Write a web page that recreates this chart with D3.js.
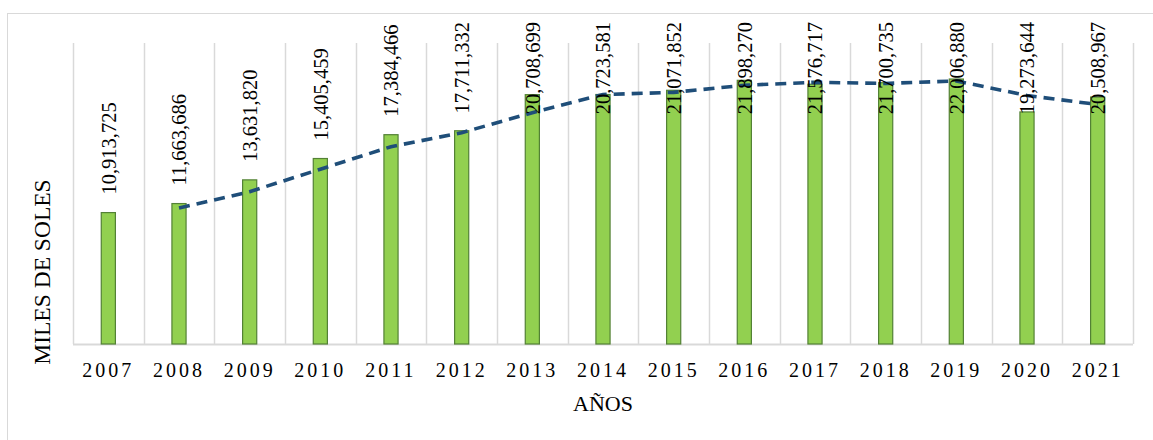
<!DOCTYPE html>
<html>
<head>
<meta charset="utf-8">
<script src="https://cdn.jsdelivr.net/npm/d3@7"></script>
<style>
  body { margin: 0; background: #fff; }
  text { font-family: "Liberation Serif", "Times New Roman", serif; fill: #000; }
</style>
</head>
<body>
<svg class="canvas" width="1153" height="440"></svg>
<script>
// years on the x axis
var years = ["2007", "2008", "2009", "2010", "2011", "2012", "2013", "2014",
             "2015", "2016", "2017", "2018", "2019", "2020", "2021"];

// thousands of soles
var values = [10913725, 11663686, 13631820, 15405459, 17384466, 17711332, 20708699,
              20723581, 21071852, 21898270, 21576717, 21700735, 22006880, 19273644, 20508967];

// dashed trend line (2-period moving average), starts in 2008
var trendYears = ["2008", "2009", "2010", "2011", "2012", "2013", "2014",
                  "2015", "2016", "2017", "2018", "2019", "2020", "2021"];
var trendValues = [11290000, 12650000, 14520000, 16390000, 17550000, 19210000, 20720000,
                   20900000, 21490000, 21740000, 21640000, 21850000, 20640000, 19890000];

var svg = d3.select('.canvas')

// outer chart border
svg.append("rect")
    .attr("x", 7.5).attr("y", 13.5)
    .attr("width", 1160).attr("height", 440)
    .style("fill", "none")
    .style("stroke", "#d9d9d9")

var plotLeft = 73, plotRight = 1133, plotTop = 43, plotBottom = 344;

var x = d3.scaleBand()
    .domain(years)
    .range([plotLeft, plotRight])

var y = d3.scaleLinear()
    .domain([0, 25000000])
    .range([plotBottom, plotTop])

// vertical gridlines at category boundaries
var bounds = years.map(function(d) { return x(d); }).concat([plotRight]);
svg.selectAll(".grid")
    .data(bounds)
    .enter()
    .append("line")
        .attr("x1", function(d) { return Math.round(d) + 0.5; })
        .attr("x2", function(d) { return Math.round(d) + 0.5; })
        .attr("y1", plotTop)
        .attr("y2", plotBottom)
        .style("stroke", "#d9d9d9")
        .style("stroke-width", 1.5)

// baseline
svg.append("line")
    .attr("x1", plotLeft).attr("x2", plotRight)
    .attr("y1", plotBottom + 0.5).attr("y2", plotBottom + 0.5)
    .style("stroke", "#d9d9d9")
    .style("stroke-width", 2)

var barW = x.bandwidth() * 0.2;

svg.selectAll(".bar")
    .data(values)
    .enter()
    .append("rect")
        .attr("x", function(d, i) { return x(years[i]) + x.bandwidth() / 2 - barW / 2; })
        .attr("y", function(d) { return y(d); })
        .attr("width", barW)
        .attr("height", function(d) { return plotBottom - y(d); })
        .style("fill", "#92d050")
        .style("stroke", "#538135")
        .style("stroke-width", 1.2)

// x axis labels
svg.selectAll(".year")
    .data(years)
    .enter()
    .append("text")
        .attr("x", function(d) { return x(d) + x.bandwidth() / 2; })
        .attr("y", 377)
        .attr("text-anchor", "middle")
        .style("font-size", "20px")
        .style("letter-spacing", "3px")
        .text(function(d) { return d; })

// trend line
var line = d3.line()
    .x(function(d, i) { return x(trendYears[i]) + x.bandwidth() / 2; })
    .y(function(d) { return y(d); })

svg.append("path")
    .datum(trendValues)
    .attr("d", line)
    .style("fill", "none")
    .style("stroke", "#1f4e79")
    .style("stroke-width", 3.6)
    .style("stroke-dasharray", "11,7")

// value labels, rotated; kept inside the chart top
var fmt = d3.format(",");
var labels = svg.selectAll(".lbl")
    .data(values)
    .enter()
    .append("text")
        .style("font-size", "20.5px")
        .attr("text-anchor", "start")
        .attr("dy", "0.35em")
        .text(function(d) { return fmt(d); })

labels.each(function(d, i) {
    var len = this.getComputedTextLength();
    var cx = x(years[i]) + x.bandwidth() / 2;
    var start = Math.max(y(d) - 18, 22 + len);
    d3.select(this).attr("transform", "translate(" + cx + "," + start + ") rotate(-90)");
});

// axis titles
svg.append("text")
    .attr("transform", "translate(42,272) rotate(-90)")
    .attr("text-anchor", "middle")
    .attr("dy", "0.35em")
    .style("font-size", "23.5px")
    .text("MILES DE SOLES")

svg.append("text")
    .attr("x", 603)
    .attr("y", 411)
    .attr("text-anchor", "middle")
    .style("font-size", "22px")
    .text("AÑOS")
</script>
</body>
</html>
